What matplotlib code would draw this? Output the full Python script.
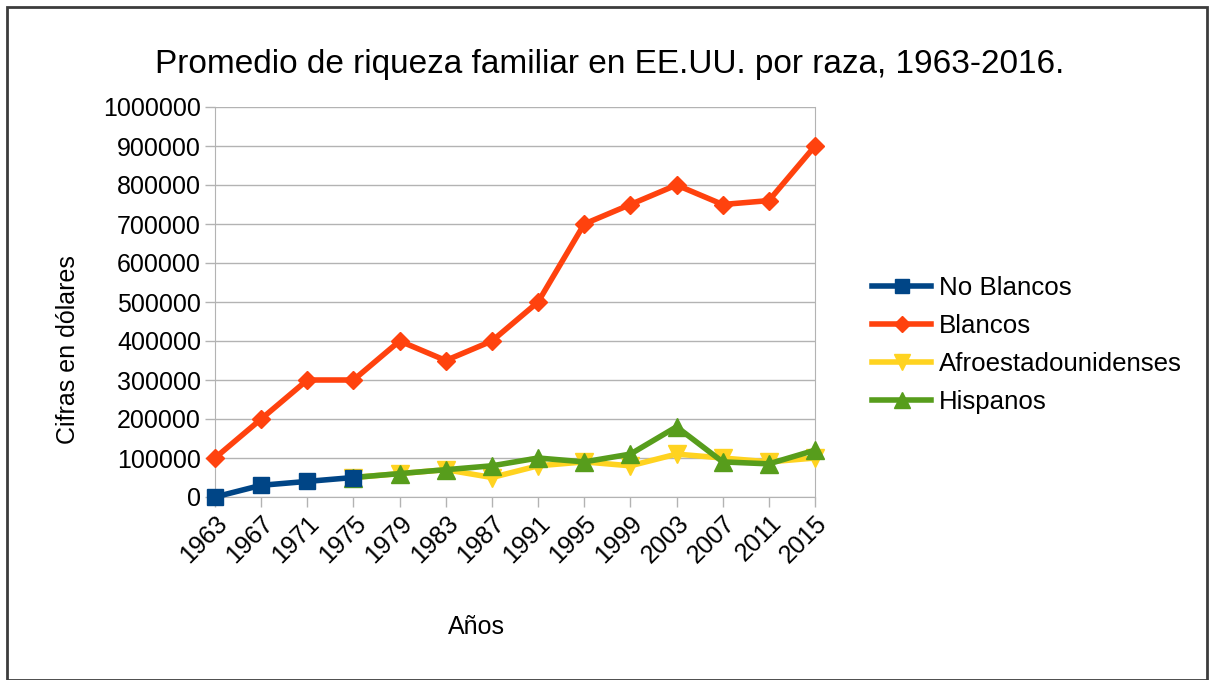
import matplotlib
matplotlib.use('Agg')
import matplotlib.pyplot as plt
from matplotlib.patches import Rectangle

# datos
anios = ['1963', '1967', '1971', '1975', '1979', '1983', '1987',
         '1991', '1995', '1999', '2003', '2007', '2011', '2015']
no_blancos = [0, 30000, 40000, 50000]
blancos = [100000, 200000, 300000, 300000, 400000, 350000, 400000,
           500000, 700000, 750000, 800000, 750000, 760000, 900000]
afro = [50000, 60000, 70000, 50000, 80000, 90000, 80000,
        110000, 100000, 90000, 100000]
hispanos = [50000, 60000, 70000, 80000, 100000, 90000, 110000,
            180000, 90000, 85000, 120000]

plt.rcParams['font.family'] = ['Liberation Sans', 'DejaVu Sans']

fig = plt.figure(figsize=(12.11, 6.8), dpi=100)
ax = fig.add_axes([215 / 1211, 1 - 497 / 680, 600 / 1211, 390 / 680])

x = list(range(len(anios)))
lw = 4
ax.plot(x[:4], no_blancos, color='#004586', marker='s', markersize=12, lw=lw, label='No Blancos',
        zorder=5, clip_on=False)
ax.plot(x, blancos, color='#ff420e', marker='D', markersize=9, lw=lw, label='Blancos',
        zorder=4, clip_on=False)
ax.plot(x[3:], afro, color='#ffd320', marker='v', markersize=13, lw=lw, label='Afroestadounidenses',
        zorder=3, clip_on=False)
ax.plot(x[3:], hispanos, color='#579d1c', marker='^', markersize=13, lw=lw, label='Hispanos',
        zorder=4, clip_on=False)

ax.set_xlim(0, len(anios) - 1)
ax.set_ylim(0, 1000000)
ax.set_yticks(range(0, 1000001, 100000))
ax.set_yticklabels([str(v) for v in range(0, 1000001, 100000)], fontsize=18)
ax.set_xticks(x)
ax.set_xticklabels(anios, rotation=45, ha='right', rotation_mode='anchor', fontsize=18)
ax.tick_params(axis='both', color='#b3b3b3', length=7, width=1)
ax.tick_params(axis='y', pad=3)
ax.tick_params(axis='x', direction='out', pad=3)
ax.grid(axis='y', color='#b3b3b3', lw=1)
ax.set_axisbelow(True)
for s in ['left', 'bottom', 'right']:
    ax.spines[s].set_color('#b3b3b3')
ax.spines['top'].set_visible(False)

# titulos de ejes
fig.text(476 / 1211, 1 - 627 / 680, 'Años', ha='center', va='center', fontsize=18)
fig.text(68 / 1211, 1 - 350 / 680, 'Cifras en dólares', ha='center', va='center',
         rotation=90, fontsize=18)

fig.text(610 / 1211, 1 - 65 / 680, 'Promedio de riqueza familiar en EE.UU. por raza, 1963-2016.',
         ha='center', va='center', fontsize=24)

ax.legend(loc='center left', bbox_to_anchor=(872 / 1211, 1 - 345 / 680), bbox_transform=fig.transFigure,
          frameon=False, fontsize=18.6, handlelength=2.3, handletextpad=0.3, labelspacing=0.55,
          borderaxespad=0, borderpad=0, markerscale=0.85)

fig.patches.append(Rectangle((7 / 1211, 0), 1200 / 1211, 1 - 7 / 680, transform=fig.transFigure,
                             fill=False, edgecolor='#3c3c3c', lw=2))

fig.savefig('out.png', dpi=100)
